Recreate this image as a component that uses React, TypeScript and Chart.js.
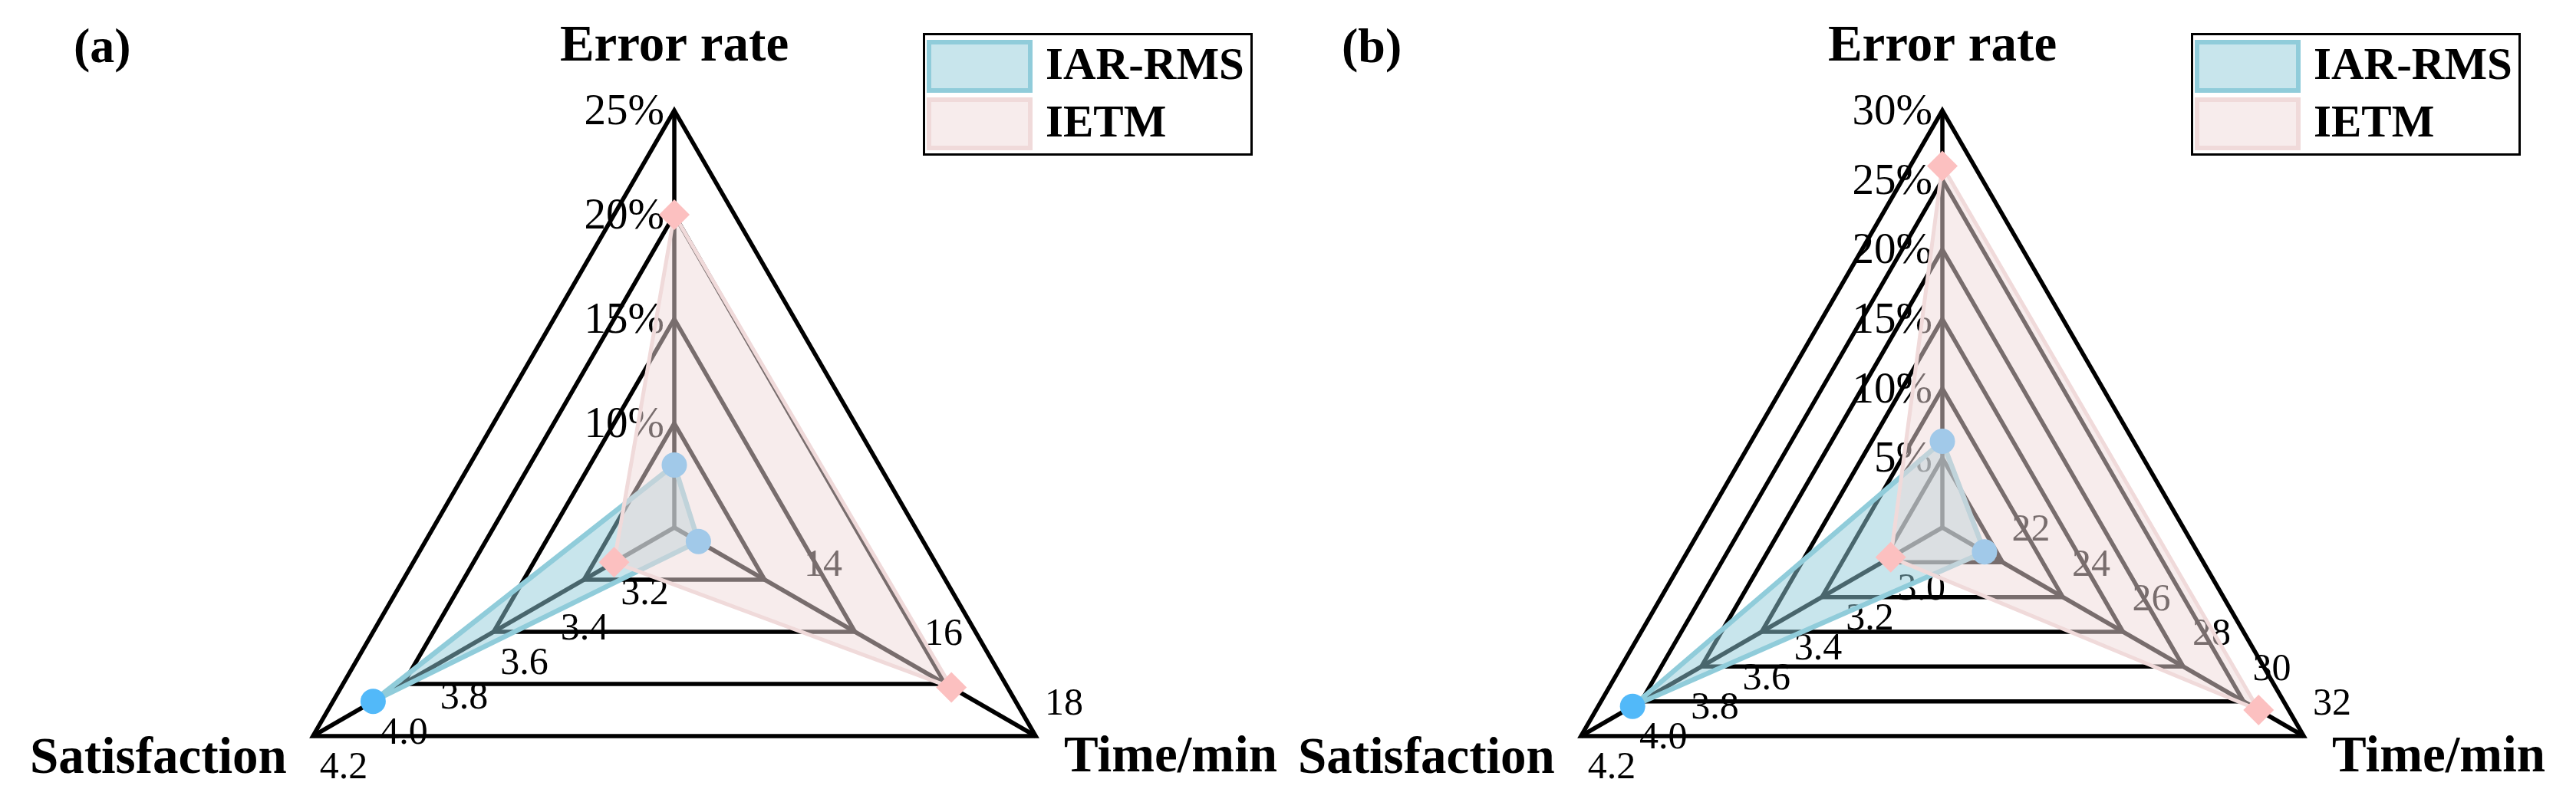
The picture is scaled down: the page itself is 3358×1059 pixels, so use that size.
import React, { useEffect, useRef } from 'react';
import { Chart, registerables } from 'chart.js';

Chart.register(...registerables);

// ---------- data ----------
const AXIS_NAMES = ['Error rate', 'Time/min', 'Satisfaction'];
const SERIES_NAMES = ['IAR-RMS', 'IETM'];

// Panel (a)
const A_ERROR_TICKS = [10, 15, 20, 25];
const A_TIME_TICKS = [14, 16, 18];
const A_SATIS_TICKS = [3.2, 3.4, 3.6, 3.8, 4.0, 4.2];
const A_AXIS_MIN = [5, 12, 3.0];
const A_IAR_RMS = [8.0, 12.4, 4.0];
const A_IETM = [20.0, 16.6, 3.2];
const A_RINGS = 4;

// Panel (b)
const B_ERROR_TICKS = [5, 10, 15, 20, 25, 30];
const B_TIME_TICKS = [22, 24, 26, 28, 30, 32];
const B_SATIS_TICKS = [3.0, 3.2, 3.4, 3.6, 3.8, 4.0, 4.2];
const B_AXIS_MIN = [0, 20, 2.8];
const B_IAR_RMS = [6.2, 21.4, 4.0];
const B_IETM = [26.0, 30.5, 3.0];
const B_RINGS = 6;

// ---------- styles ----------
const SERIF = '"Liberation Serif", "Times New Roman", serif';
const PAGE_W = 3358;
const PAGE_H = 1059;
const CANVAS_W = 1680;
const CANVAS_H = 1300; // taller than the page; the lower part (empty) is cut off
const CX = 879;
const CY = 688;
const R = 544;

const IAR_FILL = 'rgba(146,204,218,0.5)';
const IAR_EDGE = '#90CCDA';
const IAR_MARK = '#52B9F9';
const IETM_FILL = 'rgba(240,218,218,0.5)';
const IETM_EDGE = '#F0DADA';
const IETM_MARK = '#FCC0C0';

type PanelSpec = {
  tag: string;
  ticks: number[][];
  mins: number[];
  rings: number;
  iar: number[];
  ietm: number[];
};

const PANELS: PanelSpec[] = [
  { tag: '(a)', ticks: [A_ERROR_TICKS, A_TIME_TICKS, A_SATIS_TICKS], mins: A_AXIS_MIN, rings: A_RINGS, iar: A_IAR_RMS, ietm: A_IETM },
  { tag: '(b)', ticks: [B_ERROR_TICKS, B_TIME_TICKS, B_SATIS_TICKS], mins: B_AXIS_MIN, rings: B_RINGS, iar: B_IAR_RMS, ietm: B_IETM },
];

function toUnit(p: PanelSpec, axis: number, v: number) {
  const lo = p.mins[axis];
  const hi = p.ticks[axis][p.ticks[axis].length - 1];
  return ((v - lo) / (hi - lo)) * p.rings;
}

function fmtTick(axis: number, v: number) {
  if (axis === 0) return `${v}%`;
  if (axis === 1) return `${v}`;
  return v.toFixed(1);
}

function makeDecor(p: PanelSpec) {
  return {
    id: 'triRadarDecor',
    beforeDatasetsDraw(chart: any) {
      const ctx = chart.ctx;
      const s = chart.scales.r;
      ctx.save();
      ctx.fillStyle = '#000';
      ctx.textBaseline = 'middle';
      p.ticks.forEach((list, i) => {
        list.forEach((t) => {
          const pos = s.getPointPositionForValue(i, toUnit(p, i, t));
          const txt = fmtTick(i, t);
          if (i === 0) {
            ctx.font = `57px ${SERIF}`;
            ctx.textAlign = 'right';
            ctx.fillText(txt, pos.x - 13, pos.y + 3);
          } else if (i === 1) {
            ctx.font = `50px ${SERIF}`;
            ctx.textAlign = 'center';
            ctx.fillText(txt, pos.x + 37, pos.y - 41);
          } else {
            ctx.font = `50px ${SERIF}`;
            ctx.textAlign = 'center';
            ctx.fillText(txt, pos.x + 40, pos.y + 42);
          }
        });
      });
      ctx.restore();
    },
    afterDraw(chart: any) {
      const ctx = chart.ctx;
      const s = chart.scales.r;
      const top = s.getPointPositionForValue(0, p.rings);
      const br = s.getPointPositionForValue(1, p.rings);
      const bl = s.getPointPositionForValue(2, p.rings);
      ctx.save();
      ctx.fillStyle = '#000';
      ctx.textBaseline = 'alphabetic';
      ctx.font = `bold 67px ${SERIF}`;
      ctx.textAlign = 'center';
      ctx.fillText(chart.data.labels[0], top.x, top.y - 65);
      ctx.textAlign = 'left';
      ctx.fillText(chart.data.labels[1], br.x + 37, br.y + 46);
      ctx.textAlign = 'right';
      ctx.fillText(chart.data.labels[2], bl.x - 34, bl.y + 48);

      // panel tag
      ctx.font = `bold 64px ${SERIF}`;
      ctx.textAlign = 'left';
      ctx.fillText(p.tag, s.xCenter - 783, 81);

      // legend
      const lx = s.xCenter + 324;
      const ly = 43;
      ctx.lineWidth = 3;
      ctx.strokeStyle = '#000';
      ctx.strokeRect(lx + 1.5, ly + 1.5, 427, 157);
      chart.data.datasets.forEach((ds: any, k: number) => {
        const py = ly + 9 + k * 75;
        ctx.fillStyle = ds.backgroundColor;
        ctx.fillRect(lx + 8, py + 3, 132, 63);
        ctx.lineWidth = 6;
        ctx.strokeStyle = ds.borderColor;
        ctx.strokeRect(lx + 8, py + 3, 132, 63);
        ctx.fillStyle = '#000';
        ctx.font = `bold 59px ${SERIF}`;
        ctx.textAlign = 'left';
        ctx.textBaseline = 'middle';
        ctx.fillText(ds.label, lx + 160, py + 36);
        ctx.textBaseline = 'alphabetic';
      });
      ctx.restore();
    },
  };
}

function RadarPanel({ spec, left }: { spec: PanelSpec; left: number }) {
  const ref = useRef<HTMLCanvasElement>(null);
  useEffect(() => {
    if (!ref.current) return;
    const chart = new Chart(ref.current, {
      type: 'radar',
      data: {
        labels: AXIS_NAMES,
        datasets: [
          {
            label: SERIES_NAMES[0],
            data: spec.iar.map((v, i) => toUnit(spec, i, v)),
            order: 1,
            fill: true,
            backgroundColor: IAR_FILL,
            borderColor: IAR_EDGE,
            borderWidth: 6.5,
            borderJoinStyle: 'round',
            pointStyle: 'circle',
            pointRadius: 16.5,
            pointBackgroundColor: IAR_MARK,
            pointBorderColor: IAR_MARK,
            pointBorderWidth: 0,
          },
          {
            label: SERIES_NAMES[1],
            data: spec.ietm.map((v, i) => toUnit(spec, i, v)),
            order: 0,
            fill: true,
            backgroundColor: IETM_FILL,
            borderColor: IETM_EDGE,
            borderWidth: 5,
            borderJoinStyle: 'round',
            pointStyle: 'rectRot',
            pointRadius: 20,
            pointBackgroundColor: IETM_MARK,
            pointBorderColor: IETM_MARK,
            pointBorderWidth: 0,
          },
        ],
      } as any,
      options: {
        responsive: false,
        animation: false,
        devicePixelRatio: 1,
        layout: {
          padding: {
            left: CX - R,
            top: CY - R,
            right: CANVAS_W - (CX + R),
            bottom: CANVAS_H - (CY + R),
          },
        },
        elements: { line: { tension: 0 } },
        plugins: { legend: { display: false }, tooltip: { enabled: false } },
        scales: {
          r: {
            min: 0,
            max: spec.rings,
            ticks: { display: false, stepSize: 1 },
            grid: { color: '#000', lineWidth: 5.5 },
            angleLines: { color: '#000', lineWidth: 5.5 },
            pointLabels: { display: false },
          },
        },
      } as any,
      plugins: [makeDecor(spec)],
    });
    return () => chart.destroy();
  }, [spec]);
  return (
    <div style={{ position: 'absolute', left, top: 0, width: CANVAS_W, height: CANVAS_H }}>
      <canvas ref={ref} width={CANVAS_W} height={CANVAS_H} style={{ display: 'block' }} />
    </div>
  );
}

export default function App() {
  return (
    <div
      style={{
        position: 'fixed',
        left: 0,
        top: 0,
        width: PAGE_W,
        height: PAGE_H,
        overflow: 'hidden',
        background: '#fff',
      }}
    >
      <RadarPanel spec={PANELS[0]} left={0} />
      <RadarPanel spec={PANELS[1]} left={1653} />
    </div>
  );
}
